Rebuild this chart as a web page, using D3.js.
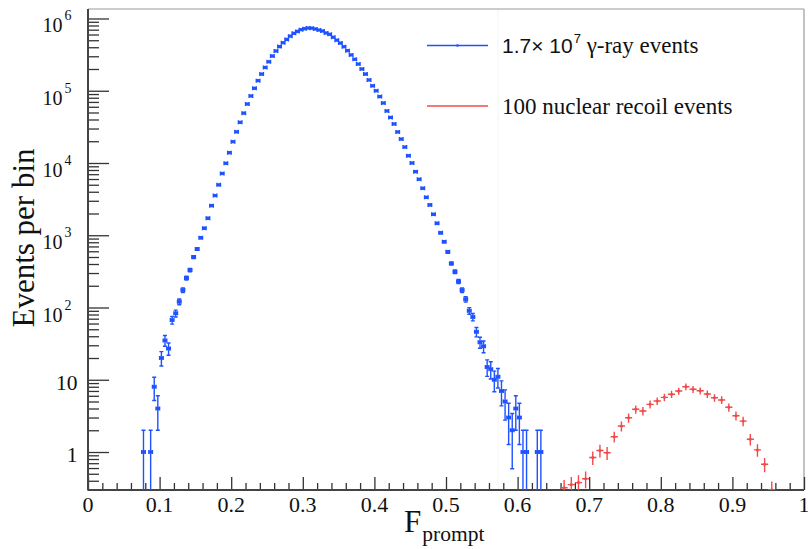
<!DOCTYPE html>
<html><head><meta charset="utf-8">
<script src="https://cdn.jsdelivr.net/npm/d3@7/dist/d3.min.js"></script>
<style>body{margin:0;background:#fff}svg{display:block}</style>
</head><body>
<svg id="c" width="808" height="549"></svg>
<script>
// ---------------- data ----------------
const gammaF = [0.0775,0.0875,0.0925,0.0975,0.1025,0.1075,0.1125,0.1175,0.1225,0.1275,
 0.1325,0.1375,0.1425,0.1475,0.1525,0.1575,0.1625,0.1675,0.1725,0.1775,
 0.1825,0.1875,0.1925,0.1975,0.2025,0.2075,0.2125,0.2175,0.2225,0.2275,
 0.2325,0.2375,0.2425,0.2475,0.2525,0.2575,0.2625,0.2675,0.2725,0.2775,
 0.2825,0.2875,0.2925,0.2975,0.3025,0.3075,0.3125,0.3175,0.3225,0.3275,
 0.3325,0.3375,0.3425,0.3475,0.3525,0.3575,0.3625,0.3675,0.3725,0.3775,
 0.3825,0.3875,0.3925,0.3975,0.4025,0.4075,0.4125,0.4175,0.4225,0.4275,
 0.4325,0.4375,0.4425,0.4475,0.4525,0.4575,0.4625,0.4675,0.4725,0.4775,
 0.4825,0.4875,0.4925,0.4975,0.5025,0.5075,0.5125,0.5175,0.5225,0.5275,
 0.5325,0.5375,0.5425,0.5475,0.5525,0.5575,0.5625,0.5675,0.5725,0.5775,
 0.5825,0.5875,0.5925,0.5975,0.6025,0.6075,0.6125,0.6275,0.6325];
const gammaCounts = [1,1,8,4,20,35,27,67,83,120,
 174,256,330,500,645,925,1250,1720,2570,3540,
 4980,7150,9900,13900,19700,27000,36500,49000,65500,84700,
 108000,138000,170000,210000,252000,302000,355000,408000,462000,513000,
 570000,623000,663000,700000,722000,738000,735000,716000,692000,671000,
 631000,603000,550000,501000,457000,407000,359000,313000,272000,234000,
 200000,170000,141000,117000,100000,83000,67600,52500,42700,34700,
 26900,21400,16600,12600,10000,7590,5960,4470,3350,2630,
 1950,1460,1080,813,589,407,313,229,174,130,
 90,74,46,33,29,15,14,10,11,7,
 5,3,2,4,3,1,1,1,1];

const nrF = [0.665,0.675,0.685,0.695,0.705,0.715,0.725,0.735,0.745,0.755,
 0.765,0.775,0.785,0.795,0.805,0.815,0.825,0.835,0.845,0.855,
 0.865,0.875,0.885,0.895,0.905,0.915,0.925,0.935,0.945,0.955];
const nrValues = [0.32,0.354,0.377,0.426,0.84,1.05,0.975,1.63,2.29,2.98,
 3.90,3.69,4.57,5.08,5.71,6.30,6.98,8.0,7.38,7.05,
 6.35,5.64,5.25,4.16,3.18,2.68,1.50,1.07,0.676,0.30];
const nrErrors = [0.09,0.097,0.10,0.11,0.18,0.21,0.20,0.28,0.36,0.43,
 0.52,0.50,0.58,0.62,0.68,0.73,0.78,0.86,0.81,0.78,
 0.74,0.67,0.64,0.54,0.45,0.40,0.27,0.21,0.15,0.09];

const xTickValues = [0,0.1,0.2,0.3,0.4,0.5,0.6,0.7,0.8,0.9,1];
const xTickLabels = ["0","0.1","0.2","0.3","0.4","0.5","0.6","0.7","0.8","0.9","1"];
const yTickValues = [1,10,100,1000,10000,100000,1000000];
const yTickLabels = ["1","10","10^2","10^3","10^4","10^5","10^6"];
const legendLabels = ["1.7\u00d7 10^7 \u03b3-ray events","100 nuclear recoil events"];

// ---------------- setup ----------------
const BLUE = "#1f52ff", RED = "#f24a4a";
const SERIF = "'Liberation Serif','Times New Roman',serif";
const SANS = "'Liberation Sans',Arial,sans-serif";
const X0 = 88, X1 = 804, YT = 9, YB = 490;
const svg = d3.select("#c");
const x = d3.scaleLinear().domain([0,1]).range([X0,X1]);
const y = d3.scaleLog().domain([0.298,1.353e6]).range([YB,YT]);

svg.append("defs").append("clipPath").attr("id","clip")
  .append("rect").attr("x",X0).attr("y",YT).attr("width",X1-X0).attr("height",YB-YT);

// faint legend-box edge
svg.append("line").attr("x1",498).attr("x2",498).attr("y1",YT).attr("y2",YB)
  .attr("stroke","#f4f4f4").attr("stroke-width",1);

// frame
svg.append("line").attr("x1",X0).attr("x2",X1).attr("y1",YT).attr("y2",YT).attr("stroke","#9a9a9a").attr("stroke-width",1.2);
svg.append("line").attr("x1",X1).attr("x2",X1).attr("y1",YT).attr("y2",YB).attr("stroke","#9a9a9a").attr("stroke-width",1.2);

// ---------------- axes ----------------
const xMinor = d3.range(0,51).map(i=>i/50).filter(v=>Math.abs(v*10-Math.round(v*10))>1e-6);
const yMinor = [];
for (let d=0.1; d<1e6; d*=10) for (let k=2;k<=9;k++){ const v=+(d*k).toPrecision(3); if (v>=y.domain()[0] && v<=y.domain()[1]) yMinor.push(v); }

function styleAxis(g, col){
  g.select(".domain").remove();
  g.selectAll(".tick line").attr("stroke",col).attr("stroke-width",1.3);
}
svg.append("g").attr("transform",`translate(0,${YB})`)
  .call(d3.axisBottom(x).tickValues(xMinor).tickSize(-7).tickFormat(""))
  .call(g=>styleAxis(g,"#333"));
svg.append("g").attr("transform",`translate(0,${YB})`)
  .call(d3.axisBottom(x).tickValues(xTickValues).tickSize(-13).tickFormat(""))
  .call(g=>styleAxis(g,"#333"));
svg.append("g").attr("transform",`translate(${X0},0)`)
  .call(d3.axisLeft(y).tickValues(yMinor).tickSize(-11).tickFormat(""))
  .call(g=>styleAxis(g,"#333"));
svg.append("g").attr("transform",`translate(${X0},0)`)
  .call(d3.axisLeft(y).tickValues(yTickValues).tickSize(-21).tickFormat(""))
  .call(g=>styleAxis(g,"#333"));
// axis lines
svg.append("line").attr("x1",X0).attr("x2",X0).attr("y1",YT).attr("y2",YB+0.5).attr("stroke","#444").attr("stroke-width",2);
svg.append("line").attr("x1",X0).attr("x2",X1).attr("y1",YB).attr("y2",YB).attr("stroke","#444").attr("stroke-width",2);

// x tick labels
svg.append("g").selectAll("text").data(xTickValues).join("text")
  .attr("x",d=>x(d)).attr("y",511.5).attr("text-anchor","middle")
  .attr("font-family",SERIF).attr("font-size",22).attr("fill","#111")
  .text((d,i)=>xTickLabels[i]);

// y tick labels
yTickValues.forEach((v,i)=>{
  const lab = yTickLabels[i], ty = y(v);
  if (lab.indexOf("^")<0){
    svg.append("text").attr("x",77.5).attr("y",ty+10).attr("text-anchor","end")
      .attr("font-family",SERIF).attr("font-size",21.5).attr("fill","#111").text(lab);
  } else {
    const [b,e] = lab.split("^");
    const t = svg.append("text").attr("x",71.5).attr("y",ty+14).attr("text-anchor","end")
      .attr("font-family",SERIF).attr("fill","#111");
    t.append("tspan").attr("font-size",20).text(b);
    t.append("tspan").attr("font-size",14).attr("dx",2).attr("dy",-12).text(e);
  }
});

// axis titles
svg.append("text").attr("transform","translate(34,238) rotate(-90)").attr("text-anchor","middle")
  .attr("font-family",SERIF).attr("font-size",31).attr("fill","#111").text("Events per bin");
const xt = svg.append("text").attr("x",404).attr("y",532)
  .attr("font-family",SERIF).attr("fill","#111");
xt.append("tspan").attr("font-size",31).text("F");
xt.append("tspan").attr("font-size",21.5).attr("dx",1).attr("dy",9).text("prompt");

// ---------------- gamma histogram ----------------
const plot = svg.append("g").attr("clip-path","url(#clip)");
const gammaData = gammaF.map((f,i)=>({f, v:gammaCounts[i]}));
const halfG = 0.0025;
plot.append("g").attr("fill","none").attr("stroke",BLUE).attr("stroke-width",1.4)
  .selectAll("path").data(gammaData).join("path")
  .attr("d",d=>{
    const cx=x(d.f), cy=y(d.v), e=Math.sqrt(d.v);
    const yt=Math.min(y(d.v+e),cy-0.01), lo=d.v-e, yb= lo>0 ? y(lo) : YB+30;
    const xl=x(d.f-halfG), xr=x(d.f+halfG);
    let p = `M${xl},${cy}H${xr}M${xl},${cy-2}V${cy+2}M${xr},${cy-2}V${cy+2}`;
    p += `M${cx},${yt}V${yb}M${cx-2},${yt}H${cx+2}`;
    if (lo>0) p += `M${cx-2},${yb}H${cx+2}`;
    return p;
  });
plot.append("g").attr("fill",BLUE)
  .selectAll("rect").data(gammaData).join("rect")
  .attr("x",d=>x(d.f)-1.6).attr("y",d=>y(d.v)-1.6).attr("width",3.2).attr("height",3.2);

// ---------------- nuclear recoil ----------------
const nrData = nrF.map((f,i)=>({f, v:nrValues[i], e:nrErrors[i]}));
const halfN = 0.005;
plot.append("g").attr("fill","none").attr("stroke",RED).attr("stroke-width",1.4)
  .selectAll("path").data(nrData).join("path")
  .attr("d",d=>{
    const cy=y(d.v), cx=x(d.f);
    return `M${x(d.f-halfN)},${cy}H${x(d.f+halfN)}M${cx},${y(d.v+d.e)}V${y(Math.max(d.v-d.e,1e-3))}`;
  });
plot.append("g").attr("fill",RED)
  .selectAll("circle").data(nrData).join("circle")
  .attr("cx",d=>x(d.f)).attr("cy",d=>y(d.v)).attr("r",1.5);

// ---------------- legend ----------------
const legY = [45.5,106];
svg.append("line").attr("x1",427).attr("x2",488).attr("y1",legY[0]).attr("y2",legY[0]).attr("stroke",BLUE).attr("stroke-width",1.3);
svg.append("circle").attr("cx",457.5).attr("cy",legY[0]).attr("r",1.3).attr("fill",BLUE);
svg.append("line").attr("x1",427).attr("x2",488).attr("y1",legY[1]).attr("y2",legY[1]).attr("stroke",RED).attr("stroke-width",1.3);

const l1 = legendLabels[0].split("^");
const lt1 = svg.append("text").attr("x",502).attr("y",53).attr("fill","#111");
lt1.append("tspan").attr("font-family",SANS).attr("font-size",21).text(l1[0]);
lt1.append("tspan").attr("font-family",SANS).attr("font-size",13).attr("dx",1).attr("dy",-10).text(l1[1].charAt(0));
lt1.append("tspan").attr("font-family",SERIF).attr("font-size",23).attr("dy",10).text(l1[1].slice(1));
svg.append("text").attr("x",502).attr("y",114).attr("fill","#111")
  .attr("font-family",SERIF).attr("font-size",23).text(legendLabels[1]);
</script>
</body></html>
